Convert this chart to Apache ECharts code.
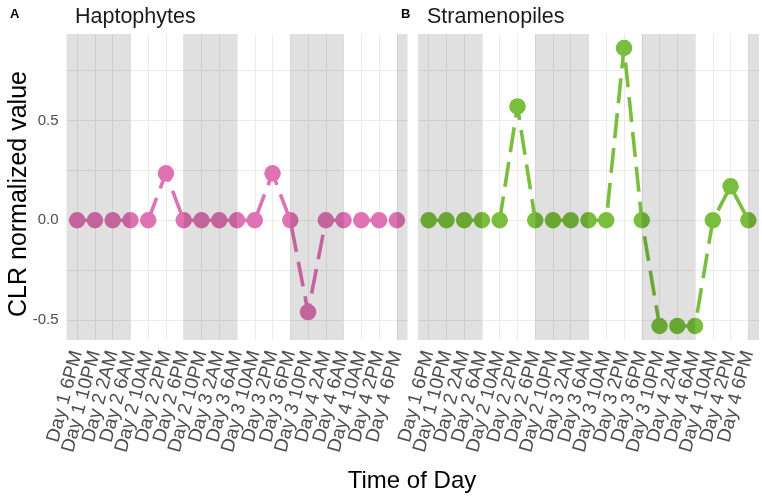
<!DOCTYPE html>
<html>
<head>
<meta charset="utf-8">
<script src="https://cdn.jsdelivr.net/npm/echarts@6/dist/echarts.min.js"></script>
<style>html,body{margin:0;padding:0;background:#fff}#c{width:762px;height:499px}</style>
</head>
<body>
<div id="c"></div>
<script>
const categories = ['Day 1 6PM','Day 1 10PM','Day 2 2AM','Day 2 6AM','Day 2 10AM','Day 2 2PM','Day 2 6PM','Day 2 10PM','Day 3 2AM','Day 3 6AM','Day 3 10AM','Day 3 2PM','Day 3 6PM','Day 3 10PM','Day 4 2AM','Day 4 6AM','Day 4 10AM','Day 4 2PM','Day 4 6PM'];
const haptophytes = [0,0,0,0,0,0.235,0,0,0,0,0,0.235,0,-0.46,0,0,0,0,0];
const stramenopiles = [0,0,0,0,0,0.57,0,0,0,0,0,0.863,0,-0.53,-0.53,-0.53,0,0.17,0];
const yTicks = [-0.5, 0, 0.5];
const yGrid = [-0.5, -0.25, 0, 0.25, 0.5, 0.75];
const nightPeriods = [[null,'Day 2 6AM'],['Day 2 6PM','Day 3 6AM'],['Day 3 6PM','Day 4 6AM'],['Day 4 6PM',null]];
const panels = [{letter:'A', name:'Haptophytes', data:haptophytes, color:'#DF72B2'},
                {letter:'B', name:'Stramenopiles', data:stramenopiles, color:'#79BE3C'}];

const FONT = "'Liberation Sans', Arial, Helvetica, sans-serif";
const grids = [{left:66.5, top:34, width:341, height:306},{left:418, top:34, width:341, height:306}];
const idx = categories.map((c,i)=>i);
const XMIN = -0.6, XMAX = categories.length - 0.4;
const labelVals = [XMIN].concat(idx, [XMAX]);
const chart = echarts.init(document.getElementById('c'), null, {renderer:'canvas'});

const xAxes = [], yAxes = [], series = [];
panels.forEach((p, g) => {
  xAxes.push({
    type:'value', gridIndex:g, min:XMIN, max:XMAX,
    axisLine:{show:false},
    axisTick:{show:false, customValues: idx},
    axisLabel:{customValues: labelVals, rotate:75, margin:11, fontSize:19, color:'#4D4D4D', fontFamily:FONT,
      hideOverlap:false,
      formatter: v => (Number.isInteger(v) && categories[v]) ? categories[v] : ' '},
    splitLine:{show:true, lineStyle:{color:'#EBEBEB', width:1}}
  });
  yAxes.push({
    type:'value', gridIndex:g, min:-0.6, max:0.933,
    axisLine:{show:false},
    axisTick:{show:false, customValues: yGrid},
    axisLabel:{show: g===0, customValues: yTicks, margin:8, fontSize:15, color:'#4D4D4D', fontFamily:FONT,
      showMinLabel:true, showMaxLabel:true,
      formatter: v => v.toFixed(1)},
    splitLine:{show:true, lineStyle:{color:'#EBEBEB', width:1}}
  });
  series.push({
    type:'line', xAxisIndex:g, yAxisIndex:g, z:2,
    data: p.data.map((v,i)=>[i,v]),
    symbol:'circle', symbolSize:16.5,
    itemStyle:{color:p.color},
    lineStyle:{color:p.color, width:3.6, type:[25,10]},
    animation:false
  });
  series.push({
    type:'line', xAxisIndex:g, yAxisIndex:g, z:5, data:[], silent:true,
    markArea:{silent:true, z:10, itemStyle:{color:'rgba(0,0,0,0.12)'},
      data: nightPeriods.map(([a,b]) => [
        {xAxis: a===null ? 'min' : categories.indexOf(a)},
        {xAxis: b===null ? 'max' : categories.indexOf(b)}
      ])},
    animation:false
  });
});

chart.setOption({
  animation:false,
  backgroundColor:'#ffffff',
  grid: grids,
  xAxis: xAxes, yAxis: yAxes, series: series,
  graphic: [
    {type:'text', left:10, top:8, style:{text:'A', font:'bold 13px '+FONT, fill:'#000'}},
    {type:'text', left:75, top:6, style:{text:'Haptophytes', font:'21.5px '+FONT, fill:'#1A1A1A'}},
    {type:'text', left:401, top:8, style:{text:'B', font:'bold 13px '+FONT, fill:'#000'}},
    {type:'text', left:427, top:6, style:{text:'Stramenopiles', font:'21.5px '+FONT, fill:'#1A1A1A'}},
    {type:'text', x:412, y:481, style:{text:'Time of Day', font:'24px '+FONT, fill:'#000', align:'center', verticalAlign:'middle'}},
    {type:'text', x:19, y:194, rotation:Math.PI/2, style:{text:'CLR normalized value', font:'25px '+FONT, fill:'#000', align:'center', verticalAlign:'middle'}}
  ]
});
</script>
</body>
</html>
